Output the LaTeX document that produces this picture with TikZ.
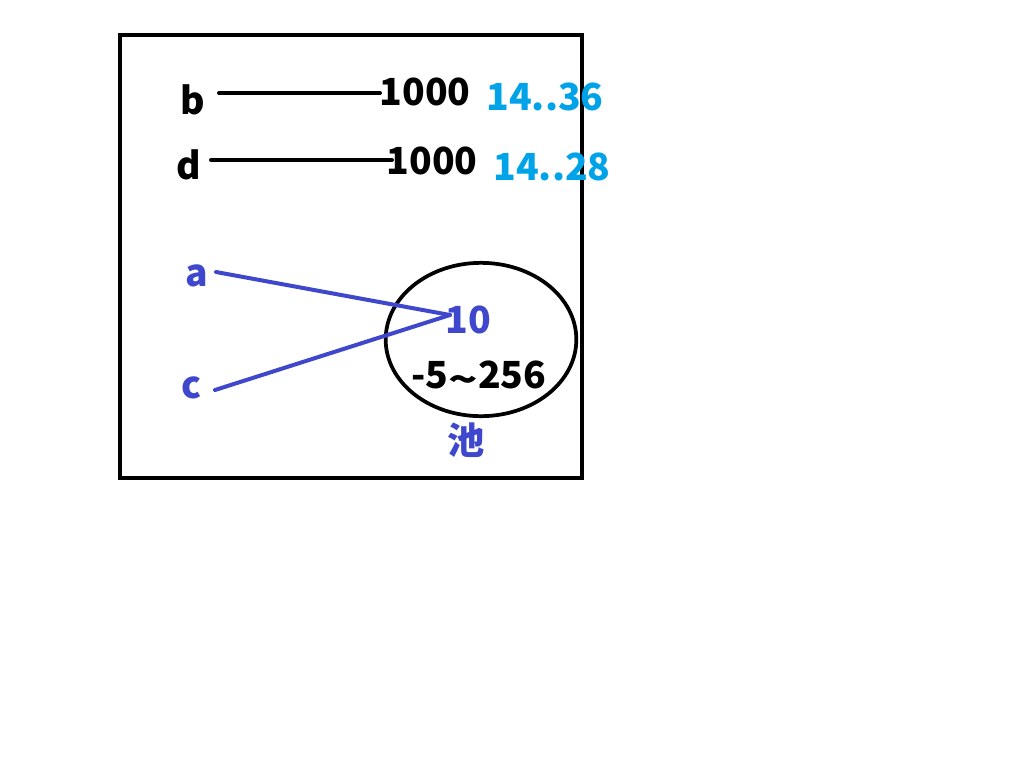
\documentclass[tikz,border=0pt]{standalone}
\usepackage{fontspec}
\usetikzlibrary{shapes.geometric}
\setmainfont{Noto Sans CJK SC}
\begin{document}
\begin{tikzpicture}[x=0.75pt,y=-0.75pt,
  txt/.style={font=\fontsize{28}{31}\selectfont\bfseries,inner sep=1pt},
  blk/.style={txt,text=black},
  ind/.style={txt,text=indigo},
  sky/.style={txt,text=skyblue},
  blkline/.style={line width=3pt,line cap=round,black},
  indline/.style={line width=3pt,line cap=round,indigo}]
\definecolor{indigo}{HTML}{3F48CC}
\definecolor{skyblue}{HTML}{00A2E8}
\useasboundingbox (0,0) rectangle (1024,768);
\draw[line width=3pt] (120,35) rectangle (582,478);
% top rows
\node[blk] (b) at (193,100) {b};
\node[blk] (b1000) at (425,92) {1000};
\node[sky] (b14) at (545,97) {14..36};
\node[blk] (d) at (189,165) {d};
\node[blk] (d1000) at (432,161) {1000};
\node[sky] (d14) at (552,167) {14..28};
\coordinate (bs) at (219,93);
\coordinate (be) at (380,93);
\coordinate (ds) at (211,160);
\coordinate (de) at (392,160);
\draw[blkline] (bs) -- (be);
\draw[blkline] (ds) -- (de);
% pool
\node[draw,ellipse,line width=2.8pt,minimum width=143pt,minimum height=115pt,inner sep=0pt] (pool) at (481,339.5) {};
\node[ind] (a) at (197,276) {a};
\node[ind] (c) at (192,388) {c};
\node[ind] (ten) at (468,320) {10};
\node[blk] (range) at (479,377) {-5\raisebox{-0.25ex}{\scalebox{1.3}[1]{\textasciitilde}}256};
\node[ind] (chi) at (466,440) {池};
\coordinate (as) at (216,272);
\coordinate (cs) at (215,390);
\coordinate (tin) at (450,315);
\draw[indline] (as) -- (tin);
\draw[indline] (cs) -- (tin);
\end{tikzpicture}
\end{document}
